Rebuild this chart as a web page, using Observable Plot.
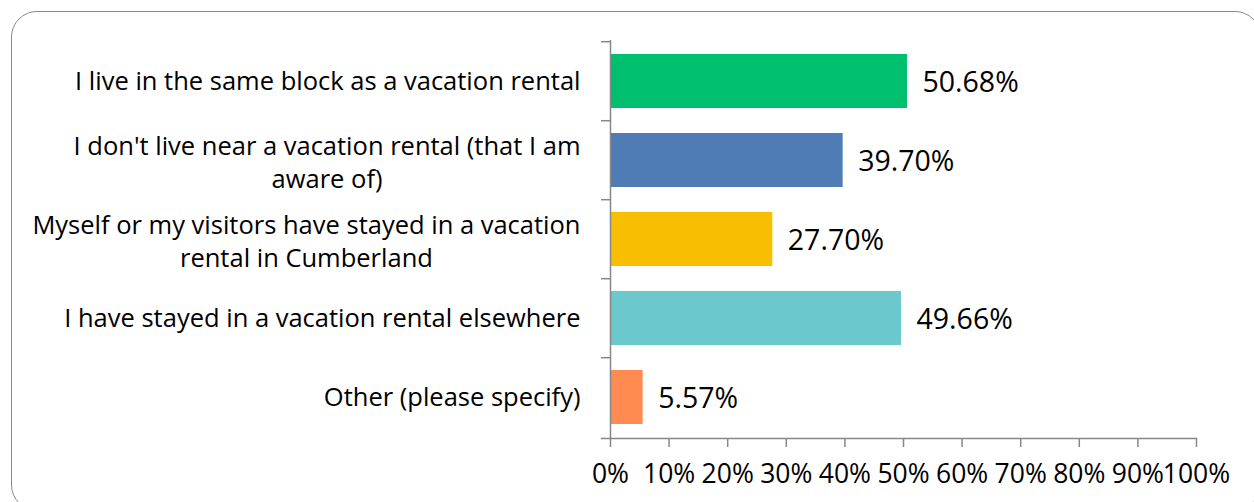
<!DOCTYPE html>
<html>
<head>
<meta charset="utf-8">
<script src="https://cdn.jsdelivr.net/npm/d3@7"></script>
<script src="https://cdn.jsdelivr.net/npm/@observablehq/plot@0.6"></script>
<style>
  html, body { margin: 0; padding: 0; background: #fff; }
  #wrap { position: relative; width: 1254px; height: 502px; overflow: hidden; background: #fff; }
  #box { position: absolute; left: 11px; top: 11px; width: 1250px; height: 500px;
         border: 1.6px solid #8a8a8a; border-radius: 26px; box-sizing: border-box; }
  #chart { position: absolute; left: 0; top: 0; }
</style>
</head>
<body>
<div id="wrap"><div id="box"></div><div id="chart"></div></div>
<script>
const categories = [
  "I live in the same block as a vacation rental",
  "I don't live near a vacation rental (that I am\naware of)",
  "Myself or my visitors have stayed in a vacation\nrental in Cumberland",
  "I have stayed in a vacation rental elsewhere",
  "Other (please specify)"
];
const values = [0.5068, 0.3970, 0.2770, 0.4966, 0.0557];
const valueLabels = ["50.68%", "39.70%", "27.70%", "49.66%", "5.57%"];
const barColors = ["#00BF6F", "#507CB6", "#F8BE00", "#6BC8CD", "#FF8B50"];
const xTicks = [0, 0.1, 0.2, 0.3, 0.4, 0.5, 0.6, 0.7, 0.8, 0.9, 1.0];
const xTickLabels = ["0%", "10%", "20%", "30%", "40%", "50%", "60%", "70%", "80%", "90%", "100%"];

const data = categories.map((c, i) => ({category: c, value: values[i], label: valueLabels[i]}));

const FONT = "'Open Sans', Lato, sans-serif";
const W = 1254, H = 502, mL = 610, mR = 58, mT = 40, mB = 64;
const step = (H - mT - mB) / categories.length;
const axisColor = "#878787";
const catSize = 25.5, valSize = 28.5, tickSize = 26.5;

const ctx = document.createElement("canvas").getContext("2d");
function textWidth(s, size) { ctx.font = `${size}px ${FONT}`; return ctx.measureText(s).width; }

const labelMarks = categories.map(c => {
  const lines = c.split("\n");
  if (lines.length === 1) {
    return Plot.text([c], {x: () => 0, y: d => d, text: d => d, textAnchor: "end", dx: -30,
      fontSize: catSize, fill: "#000"});
  }
  const maxW = Math.max(...lines.map(l => textWidth(l, catSize)));
  return Plot.text([c], {x: () => 0, y: d => d, text: d => d, textAnchor: "middle",
    dx: -(30 + maxW / 2), lineHeight: 33 / catSize, fontSize: catSize, fill: "#000"});
});

const chart = Plot.plot({
  width: W, height: H,
  marginLeft: mL, marginRight: mR, marginTop: mT, marginBottom: mB,
  style: {fontFamily: FONT, background: "transparent", overflow: "visible"},
  x: {domain: [0, 1]},
  y: {domain: categories, paddingInner: 0.32, paddingOuter: 0.16},
  color: {domain: categories, range: barColors},
  marks: [
    Plot.barX(data, {x: "value", y: "category", fill: "category"}),
    Plot.ruleX([0], {stroke: axisColor, strokeWidth: 1.5}),
    Plot.frame({anchor: "bottom", stroke: axisColor, strokeWidth: 1.5, insetLeft: -9}),
    Plot.axisY({tickSize: 9, tickFormat: () => "", dy: -step / 2, stroke: axisColor, strokeWidth: 1.5, label: null}),
    Plot.axisX({ticks: xTicks, tickFormat: (d, i) => xTickLabels[i], tickSize: 9, tickPadding: 17,
      stroke: axisColor, strokeWidth: 1.5, fill: "#000", fontSize: tickSize, label: null}),
    Plot.text(data, {x: "value", y: "category", text: "label", textAnchor: "start", dx: 15, dy: 1,
      fontSize: valSize, fill: "#000"}),
    ...labelMarks
  ]
});
document.getElementById("chart").appendChild(chart);
</script>
</body>
</html>
